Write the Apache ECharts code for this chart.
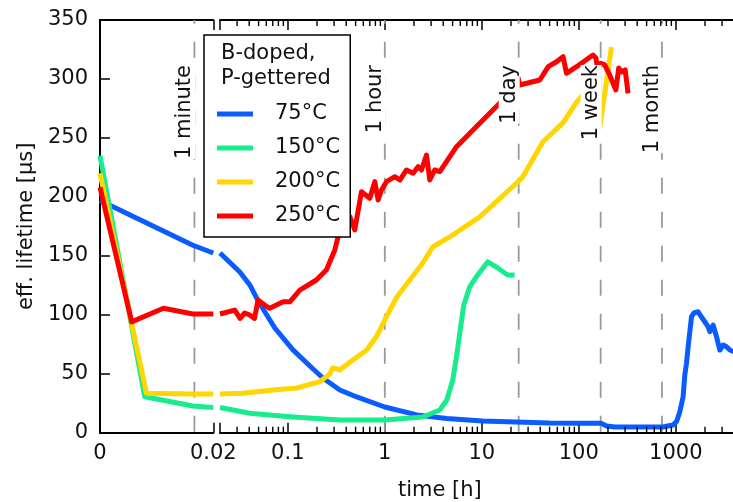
<!DOCTYPE html>
<html>
<head>
<meta charset="utf-8">
<script src="https://cdn.jsdelivr.net/npm/echarts@6/dist/echarts.min.js"></script>
<style>
  html, body { margin: 0; padding: 0; background: #fff; }
  #chart { width: 733px; height: 502px; }
</style>
</head>
<body>
<div id="chart"></div>
<script>
// Lifetime of B-doped, P-gettered samples during annealing at four temperatures.
// Time axis is split: linear from 0 to 0.02 h, then logarithmic from 0.02 h on.

const tempLabels = ['75°C', '150°C', '200°C', '250°C'];
const tempColors = ['#0a5cff', '#19ec8c', '#ffd600', '#ff0000'];

// [time in h, effective lifetime in µs] — linear part (0 … 0.02 h)
const early75  = [[0, 197], [0.0164, 159], [0.02, 152.4]];
const early150 = [[0, 235], [0.0079, 30.5], [0.0164, 22.6], [0.02, 21.4]];
const early200 = [[0, 220], [0.0082, 33.4], [0.0164, 32.9], [0.02, 32.8]];
const early250 = [[0, 208], [0.0056, 94], [0.0112, 105.5], [0.0164, 100.7], [0.02, 100.7]];

// logarithmic part (0.02 h onwards)
const late75 = [
  [0.02, 152.4], [0.032, 136.3], [0.0406, 125.3], [0.0502, 110.8], [0.0735, 88.8],
  [0.113, 70.2], [0.169, 56.6], [0.23, 46.4], [0.344, 36.2], [0.514, 30.3],
  [1, 21.8], [2.14, 15.1], [4.36, 12], [10.2, 9.9], [22.4, 9.1], [50, 8.2],
  [102, 8], [169, 8], [194, 5.7], [235, 4.8], [734, 4.8], [931, 6.5],
  [1016, 9.3], [1099, 17.5], [1189, 30.5], [1239, 49], [1288, 58.9], [1346, 74.4],
  [1452, 98.4], [1535, 101.5], [1699, 102.6], [1811, 99], [1990, 94.1],
  [2153, 89.9], [2243, 85.7], [2425, 91.3], [2628, 81.4], [2844, 70.1],
  [3076, 74.4], [3333, 72.9], [3606, 70.1], [4055, 68.4]
];
const late150 = [
  [0.02, 21.4], [0.0405, 16.5], [0.105, 13.6], [0.344, 10.8], [1, 10.8],
  [2.46, 13.3], [3.69, 19.3], [4.36, 27.7], [5.02, 44.7], [5.52, 65.9],
  [5.93, 84.6], [6.52, 108.3], [7.5, 123.6], [9.06, 133.8], [11.5, 144.8],
  [14.6, 139.7], [18.5, 133.8], [21.8, 133.8]
];
const late200 = [
  [0.02, 32.8], [0.0343, 33.4], [0.0703, 36.2], [0.124, 37.9], [0.214, 43.3],
  [0.271, 49.8], [0.291, 54.9], [0.344, 53.2], [0.468, 61.7], [0.652, 70.1],
  [0.827, 82], [1, 95.6], [1.33, 115.1], [1.81, 129.5], [2.46, 143.9],
  [3.12, 157.5], [4.67, 166], [9.53, 183], [23.5, 212.6], [26.4, 216.9],
  [42.5, 246.5], [68.6, 262.7], [95.4, 280.5], [115, 288.1], [142, 297.4],
  [164, 258.4], [217, 327]
];
const late250 = [
  [0.02, 100.7], [0.0284, 104], [0.0322, 97], [0.036, 101.5], [0.0405, 99.8],
  [0.0454, 97], [0.0494, 112.5], [0.0577, 108.3], [0.065, 105.5], [0.0895, 111],
  [0.105, 111], [0.133, 121], [0.197, 129.5], [0.25, 138], [0.305, 155],
  [0.33, 166], [0.436, 183.2], [0.49, 172], [0.575, 204.4], [0.70, 198.8],
  [0.789, 212.9], [0.853, 197.4], [0.925, 205.8], [1.04, 212.9], [1.268, 217.1],
  [1.43, 214.3], [1.674, 222.8], [1.958, 220], [2.205, 225.6], [2.39, 222.8],
  [2.69, 235.5], [2.91, 214.3], [3.27, 222.8], [3.69, 221.4], [5.49, 242.6],
  [9.53, 262.4], [15.3, 279.4], [21, 297.7], [23.7, 300.8], [24.6, 294.9],
  [39.6, 299.1], [48.4, 310.4], [58.9, 314.6], [69, 318.9], [74.6, 304.8],
  [94.7, 310.4], [140, 320.3], [150, 317.8], [158, 306.2], [168, 313.3],
  [185, 311.9], [208, 303.4], [225, 296.6], [241, 290.7], [258, 309.3],
  [277, 305.9], [301, 307.6], [322, 287.8]
];

const earlyData = [early75, early150, early200, early250];
const lateData = [late75, late150, late200, late250];

// reference times drawn as dashed verticals
const markerTimes = [1 / 60, 1, 24, 168, 720];
const markerLabels = ['1 minute', '1 hour', '1 day', '1 week', '1 month'];

// axis ticks and labels
const linTickLabels = ['0', '0.02'];
const logMajorTicks = [0.02, 0.1, 1, 10, 100, 1000];
const logTickLabels = [0.1, 1, 10, 100, 1000];
const yMin = 0, yMax = 350, yTickStep = 50;
const logMinorTicks = [];
for (let e = -2; e <= 3; e++) {
  for (let m = 2; m <= 9; m++) {
    const v = +(m * Math.pow(10, e)).toPrecision(3);
    if (v > 0.02 && v < 5000) logMinorTicks.push(v);
  }
}

const FONT = 'DejaVu Sans';
const FS = 21;
const axisLine = { show: true, onZero: false, lineStyle: { color: '#000', width: 2 } };
const majorTick = { show: true, inside: true, length: 10, lineStyle: { color: '#000', width: 1.5 } };
const labelStyle = { color: '#111', fontSize: FS, fontFamily: FONT };

const chart = echarts.init(document.getElementById('chart'), null, { renderer: 'canvas' });

const grids = [
  { left: 100, top: 20, width: 113.3, height: 412.7, outerBoundsMode: 'none', containLabel: false },
  { left: 220, top: 20, width: 523.6, height: 412.7, outerBoundsMode: 'none', containLabel: false }
];

const logBase = { type: 'log', logBase: 10, min: 0.02, max: 5000, gridIndex: 1, splitLine: { show: false }, minorTick: { show: false } };

const xAxes = [
  // linear part, bottom
  { type: 'value', gridIndex: 0, position: 'bottom', min: 0, max: 0.02, interval: 0.02,
    axisLine, axisTick: majorTick, splitLine: { show: false },
    axisLabel: Object.assign({ margin: 10, formatter: (v) => linTickLabels[Math.round(v / 0.02)] }, labelStyle) },
  // linear part, top
  { type: 'value', gridIndex: 0, position: 'top', min: 0, max: 0.02, interval: 0.02,
    axisLine, axisTick: majorTick, splitLine: { show: false }, axisLabel: { show: false } },
  // log part, bottom
  Object.assign({}, logBase, { position: 'bottom', axisLine,
    axisTick: Object.assign({ customValues: logMajorTicks }, majorTick),
    axisLabel: Object.assign({ margin: 10, customValues: logTickLabels, formatter: (v) => String(+(+v).toPrecision(3)) }, labelStyle) }),
  // log part, top
  Object.assign({}, logBase, { position: 'top', axisLine,
    axisTick: Object.assign({ customValues: logMajorTicks }, majorTick), axisLabel: { show: false } })
];

const yAxes = [
  { type: 'value', gridIndex: 0, position: 'left', min: yMin, max: yMax, interval: yTickStep,
    axisLine, axisTick: majorTick, splitLine: { show: false },
    axisLabel: Object.assign({ margin: 12 }, labelStyle),
    name: 'eff. lifetime [µs]', nameLocation: 'middle', nameGap: 63,
    nameTextStyle: { color: '#111', fontSize: FS, fontFamily: FONT } },
  { type: 'value', gridIndex: 1, position: 'right', min: yMin, max: yMax, interval: yTickStep,
    axisLine, axisTick: majorTick, splitLine: { show: false }, axisLabel: { show: false } }
];

const series = [];

// minor ticks of the log axis: short bars pointing inward from the bottom and top frame
const minorTickSeries = (yEdge, offsetY) => ({
  type: 'scatter', xAxisIndex: 2, yAxisIndex: 1, z: 4, silent: true, clip: false,
  symbol: 'rect', symbolSize: [1.4, 6], symbolOffset: [0, offsetY],
  itemStyle: { color: '#000', opacity: 1 },
  data: logMinorTicks.map((t) => [t, yEdge])
});
series.push(minorTickSeries(yMin, -3));
series.push(minorTickSeries(yMax, 3));

// dashed reference lines (under the data)
function renderMarkerLine(params, api) {
  const t = api.value(0);
  const top = api.coord([t, yMax]);
  const bottom = api.coord([t, yMin]);
  return {
    type: 'line',
    shape: { x1: top[0], y1: top[1], x2: bottom[0], y2: bottom[1] },
    style: { stroke: '#9a9a9a', lineWidth: 1.8, lineDash: [16, 18], lineDashOffset: 12.3 }
  };
}
// rotated captions beside the dashed lines (above the data)
function renderMarkerText(params, api) {
  const t = api.value(0);
  const idx = api.value(1);
  const top = api.coord([t, yMax]);
  return {
    type: 'text',
    x: top[0] + 1,
    y: top[1] + 45,
    rotation: Math.PI / 2,
    style: {
      text: markerLabels[idx], fill: '#111', fontSize: FS, fontFamily: FONT,
      align: 'right', verticalAlign: 'bottom', backgroundColor: '#fff'
    }
  };
}
const minuteMarks = [[markerTimes[0], 0]];
const otherMarks = markerTimes.slice(1).map((t, i) => [t, i + 1]);

series.push({ type: 'custom', xAxisIndex: 0, yAxisIndex: 0, z: 1, silent: true,
  renderItem: renderMarkerLine, data: minuteMarks });
series.push({ type: 'custom', xAxisIndex: 2, yAxisIndex: 1, z: 1, silent: true,
  renderItem: renderMarkerLine, data: otherMarks });

tempLabels.forEach((name, i) => {
  const common = {
    type: 'line', name, color: tempColors[i], showSymbol: false, symbol: 'none',
    lineStyle: { width: 5, color: tempColors[i], join: 'round', cap: 'butt' },
    clip: true, z: 3, silent: true, animation: false
  };
  series.push(Object.assign({}, common, { xAxisIndex: 0, yAxisIndex: 0, data: earlyData[i] }));
  series.push(Object.assign({}, common, { xAxisIndex: 2, yAxisIndex: 1, data: lateData[i] }));
});

series.push({ type: 'custom', xAxisIndex: 0, yAxisIndex: 0, z: 6, silent: true,
  renderItem: renderMarkerText, data: minuteMarks });
series.push({ type: 'custom', xAxisIndex: 2, yAxisIndex: 1, z: 6, silent: true,
  renderItem: renderMarkerText, data: otherMarks });

const option = {
  animation: false,
  textStyle: { fontFamily: FONT },
  title: [
    { text: 'time [h]', left: 398, top: 480, padding: 0,
      textStyle: { fontSize: FS, fontWeight: 'normal', color: '#111', fontFamily: FONT } },
    { text: 'B-doped,\nP-gettered', left: 221, top: 41, padding: 0, z: 12,
      textStyle: { fontSize: FS, fontWeight: 'normal', color: '#111', fontFamily: FONT, lineHeight: 25 } }
  ],
  legend: {
    data: tempLabels, orient: 'vertical', left: 204, top: 35,
    padding: [68, 10, 10, 13], itemWidth: 36, itemHeight: 5, itemGap: 12,
    icon: 'rect', selectedMode: false, z: 10,
    backgroundColor: '#fff', borderColor: '#000', borderWidth: 1.5, borderRadius: 0,
    textStyle: { fontSize: FS, color: '#111', fontFamily: FONT, lineHeight: 22, padding: [0, 0, 0, 17] }
  },
  grid: grids,
  xAxis: xAxes,
  yAxis: yAxes,
  series
};

chart.setOption(option);
</script>
</body>
</html>
